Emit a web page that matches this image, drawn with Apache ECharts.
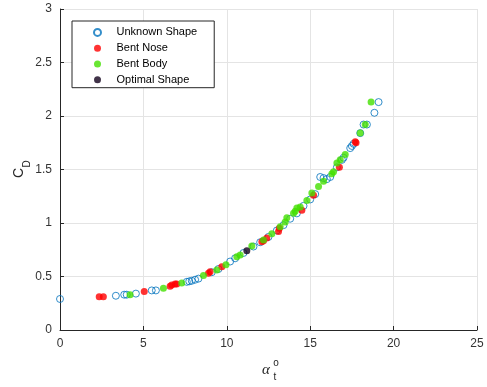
<!DOCTYPE html>
<html>
<head>
<meta charset="utf-8">
<script src="https://cdn.jsdelivr.net/npm/echarts@6/dist/echarts.min.js"></script>
<style>
  html, body { margin: 0; padding: 0; background: #fff; }
  #chart { width: 487px; height: 387px; }
</style>
</head>
<body>
<div id="chart"></div>
<script>
// Drag coefficient C_D against trim angle alpha_t for several body shapes
const seriesNames = ['Unknown Shape', 'Bent Nose', 'Bent Body', 'Optimal Shape'];

const unknownShape = [
  [0, 0.29], [3.35, 0.32], [3.85, 0.33], [4.0, 0.33], [4.55, 0.34], [5.5, 0.37], [5.75, 0.37],
  [7.6, 0.45], [7.75, 0.455], [7.9, 0.46], [8.1, 0.47], [8.3, 0.48], [9.1, 0.54], [9.5, 0.57],
  [10.2, 0.64], [10.5, 0.67], [11.0, 0.72], [11.6, 0.78], [12.0, 0.82], [12.5, 0.87],
  [13.0, 0.93], [13.4, 0.98], [13.8, 1.04], [14.2, 1.09], [14.6, 1.16], [15.0, 1.22],
  [15.3, 1.27], [15.6, 1.43], [15.8, 1.42], [16.0, 1.41], [16.2, 1.43], [16.6, 1.52],
  [16.9, 1.59], [17.0, 1.61], [17.4, 1.70], [17.5, 1.72], [17.6, 1.74], [18.0, 1.84],
  [18.2, 1.92], [18.4, 1.92], [18.85, 2.03], [19.1, 2.13]
];

const bentNose = [
  [2.35, 0.31], [2.6, 0.31], [5.05, 0.36], [6.6, 0.41], [6.7, 0.42], [6.9, 0.43], [7.0, 0.43],
  [8.9, 0.53], [9.0, 0.545], [9.7, 0.59], [12.1, 0.825], [12.2, 0.835], [12.4, 0.86],
  [13.1, 0.92], [13.15, 0.95], [14.5, 1.12], [15.2, 1.26], [16.75, 1.52], [17.7, 1.76], [17.75, 1.75]
];

const bentBody = [
  [4.2, 0.33], [6.2, 0.39], [7.3, 0.44], [8.6, 0.51], [9.4, 0.56], [9.95, 0.61], [10.6, 0.685],
  [10.8, 0.70], [11.5, 0.785], [12.2, 0.84], [12.7, 0.90], [13.2, 0.965], [13.5, 1.01],
  [13.6, 1.05], [14.0, 1.09], [14.1, 1.11], [14.2, 1.14], [14.4, 1.15], [14.8, 1.21],
  [15.1, 1.28], [15.5, 1.34], [15.8, 1.39], [16.3, 1.46], [16.4, 1.48], [16.6, 1.56],
  [16.8, 1.59], [17.1, 1.64], [18.0, 1.84], [18.3, 1.92], [18.65, 2.13]
];

const optimalShape = [[11.2, 0.74]];

const xTicks = { min: 0, max: 25, step: 5 };
const yTicks = { min: 0, max: 3, step: 0.5 };

const axisColor = '#262626';
const gridColor = '#e4e4e4';
const font = 'Liberation Sans, Arial, sans-serif';

const chart = echarts.init(document.getElementById('chart'), null, { renderer: 'canvas' });

function axisCommon() {
  return {
    type: 'value',
    axisLine: { show: true, onZero: false, lineStyle: { color: axisColor, width: 1 } },
    axisTick: { show: true, inside: true, length: 4, lineStyle: { color: axisColor } },
    axisLabel: { color: '#333', fontSize: 12, fontFamily: font },
    splitLine: { show: true, lineStyle: { color: gridColor, width: 1 } }
  };
}

const option = {
  backgroundColor: '#fff',
  animation: false,
  grid: { left: 60, right: 10, top: 9, bottom: 57, containLabel: false },
  xAxis: Object.assign(axisCommon(), {
    min: xTicks.min, max: xTicks.max, interval: xTicks.step
  }),
  yAxis: Object.assign(axisCommon(), {
    min: yTicks.min, max: yTicks.max, interval: yTicks.step
  }),
  legend: {
    orient: 'vertical',
    left: 72,
    top: 21,
    padding: [3.5, 17, 0, 21],
    itemGap: 0,
    itemWidth: 28,
    itemHeight: 7,
    backgroundColor: '#fff',
    borderColor: axisColor,
    borderWidth: 1,
    borderRadius: 0,
    textStyle: { color: '#000', fontSize: 11, fontFamily: font, lineHeight: 15.8 },
    data: seriesNames.map(n => ({ name: n, icon: 'circle' }))
  },
  series: [
    {
      name: seriesNames[0], type: 'scatter', symbol: 'circle', symbolSize: 7,
      itemStyle: { color: 'rgba(255,255,255,0)', borderColor: '#0072BD', borderWidth: 1 },
      data: unknownShape
    },
    {
      name: seriesNames[1], type: 'scatter', symbol: 'circle', symbolSize: 7,
      itemStyle: { color: '#ff0000' },
      data: bentNose
    },
    {
      name: seriesNames[2], type: 'scatter', symbol: 'circle', symbolSize: 7,
      itemStyle: { color: '#44e000' },
      data: bentBody
    },
    {
      name: seriesNames[3], type: 'scatter', symbol: 'circle', symbolSize: 7,
      itemStyle: { color: '#12001c' },
      data: optimalShape
    }
  ],
  graphic: [
    {
      // y-axis title C_D, rotated
      type: 'group', x: 19, y: 173, rotation: Math.PI / 2,
      children: [
        { type: 'text', x: 0, y: 0, style: { text: 'C', font: '14px ' + font, fill: axisColor, align: 'center', verticalAlign: 'middle' } },
        { type: 'text', x: 9, y: 8, style: { text: 'D', font: '10px ' + font, fill: axisColor, align: 'center', verticalAlign: 'middle' } }
      ]
    },
    // x-axis title alpha_t^o
    { type: 'text', x: 266, y: 370, style: { text: 'α', font: 'italic 15px Liberation Serif, serif', fill: axisColor, align: 'center', verticalAlign: 'middle' } },
    { type: 'text', x: 276, y: 363, style: { text: 'o', font: '10px ' + font, fill: axisColor, align: 'center', verticalAlign: 'middle' } },
    { type: 'text', x: 275, y: 377, style: { text: 't', font: '10px ' + font, fill: axisColor, align: 'center', verticalAlign: 'middle' } }
  ]
};

chart.setOption(option);
</script>
</body>
</html>
